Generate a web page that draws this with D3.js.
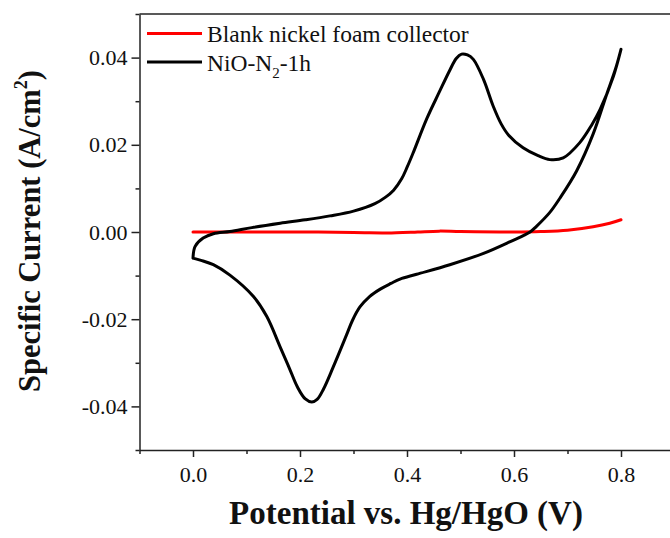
<!DOCTYPE html>
<html>
<head>
<meta charset="utf-8">
<script src="https://cdn.jsdelivr.net/npm/d3@7"></script>
<style>
  html, body { margin: 0; padding: 0; background: #fff; }
  svg { display: block; }
  text { font-family: "Liberation Serif", "DejaVu Serif", serif; fill: #111; }
</style>
</head>
<body>
<svg id="chart" width="670" height="538"></svg>
<script>
// ---- data (Potential V, Specific current A/cm^2) ----
const seriesNames = ["Blank nickel foam collector", "NiO-N2-1h"];
const seriesColors = ["#ff0000", "#000000"];

const blankFoam = [
  [0.000, 0.0000], [0.100, 0.0000], [0.200, 0.0000], [0.300, -0.0001],
  [0.380, -0.0002], [0.420, 0.0000], [0.460, 0.0002], [0.500, 0.0001],
  [0.600, 0.0000], [0.650, 0.0001], [0.700, 0.0004], [0.748, 0.0012],
  [0.779, 0.0020], [0.800, 0.0028]
];

const nioForward = [
  [0.000, -0.0060], [0.004, -0.0033], [0.019, -0.0014], [0.038, -0.0004],
  [0.069, 0.0001], [0.110, 0.0010], [0.163, 0.0020], [0.210, 0.0028],
  [0.256, 0.0037], [0.300, 0.0048], [0.340, 0.0065], [0.360, 0.0080],
  [0.375, 0.0096], [0.390, 0.0122], [0.400, 0.0148], [0.411, 0.0180],
  [0.437, 0.0260], [0.460, 0.0320], [0.480, 0.0371], [0.492, 0.0398],
  [0.502, 0.0408], [0.513, 0.0406], [0.524, 0.0396], [0.543, 0.0350],
  [0.561, 0.0289], [0.576, 0.0248], [0.590, 0.0222], [0.617, 0.0193],
  [0.645, 0.0175], [0.667, 0.0166], [0.692, 0.0170], [0.723, 0.0205],
  [0.745, 0.0245], [0.761, 0.0281], [0.786, 0.0358], [0.800, 0.0419]
];

const nioReverse = [
  [0.800, 0.0419], [0.790, 0.0375], [0.773, 0.0315], [0.748, 0.0225],
  [0.717, 0.0140], [0.686, 0.0078], [0.667, 0.0045], [0.642, 0.0013],
  [0.630, 0.0000], [0.593, -0.0022], [0.543, -0.0049], [0.480, -0.0075],
  [0.418, -0.0097], [0.387, -0.0108], [0.370, -0.0118], [0.350, -0.0131],
  [0.330, -0.0148], [0.312, -0.0172], [0.298, -0.0203], [0.287, -0.0236],
  [0.262, -0.0310], [0.244, -0.0360], [0.232, -0.0384], [0.222, -0.0390],
  [0.210, -0.0383], [0.195, -0.0355], [0.180, -0.0312], [0.163, -0.0264],
  [0.138, -0.0194], [0.113, -0.0148], [0.069, -0.0099], [0.038, -0.0075],
  [0.015, -0.0065], [0.000, -0.0060]
];

const xMajorTicks = [0.0, 0.2, 0.4, 0.6, 0.8];
const xMinorTicks = [-0.1, 0.1, 0.3, 0.5, 0.7, 0.9];
const yMajorTicks = [-0.04, -0.02, 0.00, 0.02, 0.04];
const yMinorTicks = [-0.05, -0.03, -0.01, 0.01, 0.03, 0.05];

const xLabel = "Potential vs. Hg/HgO (V)";

// ---- layout ----
const svg = d3.select("#chart");
const mLeft = 139.5, mRight = 674.5, mTop = 14, mBottom = 450;

const x = d3.scaleLinear().domain([-0.1, 0.9]).range([mLeft, mRight]);
const y = d3.scaleLinear().domain([-0.05, 0.05]).range([mBottom, mTop]);

svg.append("rect").attr("width", 670).attr("height", 538).attr("fill", "#fff");

// curves
const line = d3.line().x(d => x(d[0])).y(d => y(d[1])).curve(d3.curveCatmullRom.alpha(0.5));

svg.append("path").datum(blankFoam).attr("d", line)
  .attr("fill", "none").attr("stroke", seriesColors[0]).attr("stroke-width", 3)
  .attr("stroke-linecap", "round");

svg.append("path").datum(nioForward.concat(nioReverse.slice(1))).attr("d", line)
  .attr("fill", "none").attr("stroke", seriesColors[1]).attr("stroke-width", 3)
  .attr("stroke-linejoin", "round").attr("stroke-linecap", "round");

// frame
const axisColor = "#222";
svg.append("line").attr("x1", mLeft).attr("x2", 670).attr("y1", mTop).attr("y2", mTop)
  .attr("stroke", axisColor).attr("stroke-width", 1.5);

// x axis
const xAxis = svg.append("g").attr("transform", `translate(0,${mBottom})`)
  .call(d3.axisBottom(x).tickValues(xMajorTicks).tickSize(7).tickSizeOuter(0)
    .tickPadding(9).tickFormat(d3.format(".1f")));
svg.append("g").attr("transform", `translate(0,${mBottom})`)
  .call(d3.axisBottom(x).tickValues(xMinorTicks).tickSize(4).tickSizeOuter(0).tickFormat(""))
  .select(".domain").remove();

// y axis
const yAxis = svg.append("g").attr("transform", `translate(${mLeft},0)`)
  .call(d3.axisLeft(y).tickValues(yMajorTicks).tickSize(8).tickSizeOuter(0)
    .tickPadding(4).tickFormat(d3.format(".2f")));
svg.append("g").attr("transform", `translate(${mLeft},0)`)
  .call(d3.axisLeft(y).tickValues(yMinorTicks).tickSize(4).tickSizeOuter(0).tickFormat(""))
  .select(".domain").remove();

svg.selectAll(".domain").attr("stroke", axisColor).attr("stroke-width", 1.5);
svg.selectAll(".tick line").attr("stroke", axisColor).attr("stroke-width", 1.5);
svg.selectAll(".tick text")
  .attr("font-family", "'Liberation Serif', serif").attr("font-size", 22).attr("fill", "#333");
xAxis.selectAll(".tick text").attr("dy", "0.71em");
yAxis.selectAll(".tick text").text(d => d3.format(".2f")(d).replace("\u2212", "-"));

// axis titles
svg.append("text").attr("x", 406).attr("y", 524)
  .attr("text-anchor", "middle").attr("font-size", 33).attr("font-weight", "bold")
  .text(xLabel);

const yt = svg.append("text").attr("transform", "translate(40,231) rotate(-90)")
  .attr("text-anchor", "middle").attr("font-size", 30.5).attr("font-weight", "bold");
yt.append("tspan").text("Specific Current (A/cm");
yt.append("tspan").attr("font-size", 18).attr("dy", -13).text("2");
yt.append("tspan").attr("dy", 13).text(")");

// legend
const legLineY = [33.5, 62];
const legTextY = [41.5, 70.5];
[0, 1].forEach(i => {
  svg.append("line").attr("x1", 147).attr("x2", 202).attr("y1", legLineY[i]).attr("y2", legLineY[i])
    .attr("stroke", seriesColors[i]).attr("stroke-width", 3);
});
svg.append("text").attr("x", 207).attr("y", legTextY[0]).attr("font-size", 23.5)
  .attr("fill", "#222").text(seriesNames[0]);
const l2 = svg.append("text").attr("x", 207).attr("y", legTextY[1]).attr("font-size", 23.5)
  .attr("fill", "#222");
l2.append("tspan").text("NiO-N");
l2.append("tspan").attr("font-size", 15).attr("dy", 7).text("2");
l2.append("tspan").attr("dy", -7).text("-1h");
</script>
</body>
</html>
